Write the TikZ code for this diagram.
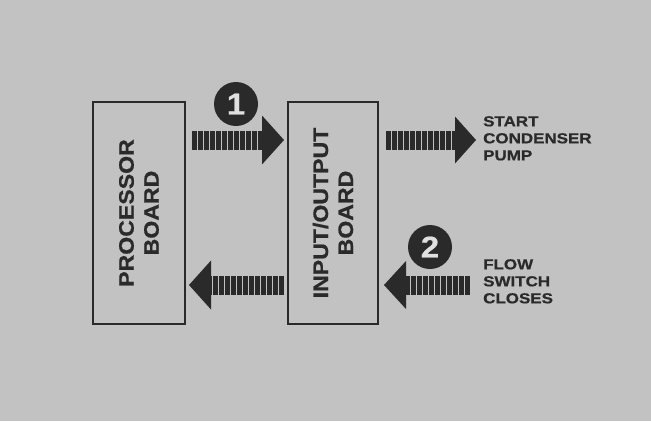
\documentclass[tikz,border=0pt]{standalone}
\usepackage{fontspec}
\setmainfont{Liberation Sans}
\newfontfamily\heavy[FakeStretch=1.1,FakeBold=0.6]{Liberation Sans Bold}
\newfontfamily\heavyw[FakeStretch=1.17,FakeBold=0.6]{Liberation Sans Bold}
\usetikzlibrary{calc}
\definecolor{bg}{HTML}{C2C2C2}
\definecolor{ink}{HTML}{2A2A2A}
\tikzset{
  board/.style={draw=ink, line width=2pt, fill=bg, inner sep=0pt},
  boardtext/.style={rotate=90, font=\heavy\fontsize{21}{25}\selectfont, text=ink, align=center},
  shaft/.style={draw=ink, line width=19pt, dash pattern=on 4.6pt off 1.4pt},
  head/.style={fill=ink},
  badge/.style={circle, fill=ink, minimum size=44pt, inner sep=0pt, text=bg!50!white, font=\heavy\fontsize{30}{30}\selectfont},
  sidetext/.style={font=\heavyw\fontsize{14.5}{17}\selectfont, text=ink, align=left, inner sep=0pt, anchor=north west}
}
\begin{document}
\begin{tikzpicture}[x=1pt, y=-1pt]
\useasboundingbox (0,0) rectangle (651,421);
\fill[bg] (0,0) rectangle (651,421);
% boards
\node[board, minimum width=92pt, minimum height=222pt] (proc) at (139,213) {};
\node[boardtext] (proct) at (proc.center) {PROCESSOR\\BOARD};
\node[board, minimum width=90pt, minimum height=222pt] (io) at (333,213) {};
\node[boardtext] (iot) at (io.center) {INPUT/OUTPUT\\BOARD};
% rows
\coordinate (r1) at (0,140);
\coordinate (r2) at (0,285);
% arrow 1: processor -> io
\coordinate (a1s) at ($(proc.east |- r1)+(6,0)$);
\coordinate (a1t) at ($(io.west |- r1)+(-3,0)$);
\coordinate (a1b) at ($(a1t)+(-22,0)$);
\draw[shaft] (a1s) -- (a1b);
\fill[head] (a1t) -- ($(a1b)+(0,-24.5)$) -- ($(a1b)+(0,24.5)$) -- cycle;
% arrow 2: io -> start condenser pump
\node[sidetext] (out) at (483,116) {START\\CONDENSER\\PUMP};
\coordinate (a2s) at ($(io.east |- r1)+(7,0)$);
\coordinate (a2t) at ($(out.west |- r1)+(-7,0)$);
\coordinate (a2b) at ($(a2t)+(-21,0)$);
\draw[shaft] (a2s) -- (a2b);
\fill[head] (a2t) -- ($(a2b)+(0,-23.5)$) -- ($(a2b)+(0,23.5)$) -- cycle;
% arrow 4: flow switch -> io
\node[sidetext] (in) at (483,259) {FLOW\\SWITCH\\CLOSES};
\coordinate (a4s) at ($(in.west |- r2)+(-13,0)$);
\coordinate (a4t) at ($(io.east |- r2)+(5,0)$);
\coordinate (a4b) at ($(a4t)+(22,0)$);
\draw[shaft] (a4s) -- (a4b);
\fill[head] (a4t) -- ($(a4b)+(0,-24)$) -- ($(a4b)+(0,24)$) -- cycle;
% arrow 3: io -> processor
\coordinate (a3s) at ($(io.west |- r2)+(-3,0)$);
\coordinate (a3t) at ($(proc.east |- r2)+(3,0)$);
\coordinate (a3b) at ($(a3t)+(22,0)$);
\draw[shaft] (a3s) -- (a3b);
\fill[head] (a3t) -- ($(a3b)+(0,-24.5)$) -- ($(a3b)+(0,24.5)$) -- cycle;
% badges
\node[badge] (b1) at (236,104) {1};
\node[badge] (b2) at (430,247) {2};
\end{tikzpicture}
\end{document}
